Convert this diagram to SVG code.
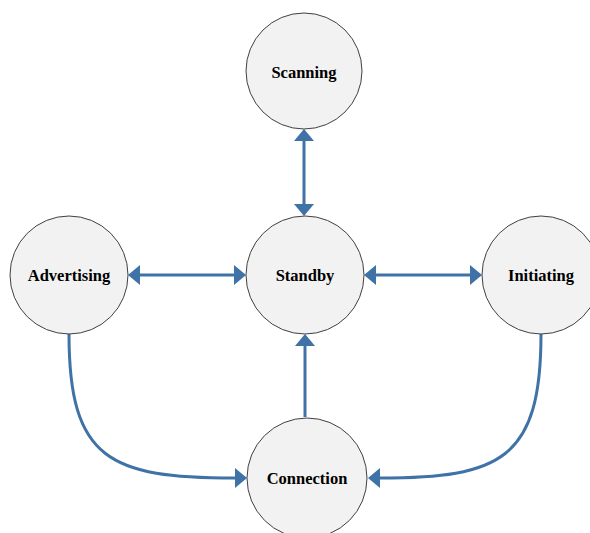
<svg xmlns="http://www.w3.org/2000/svg" width="590" height="533" viewBox="0 0 590 533">
<style>
.node circle{fill:#f2f2f2;stroke:#404040;stroke-width:1}
.node text{font-family:"Liberation Serif","Times New Roman",serif;font-weight:bold;font-size:16.5px;fill:#000;text-anchor:middle;dominant-baseline:central}
.conn path{fill:none;stroke:#3f72a6;stroke-width:3}
</style>
<defs>
<marker id="ah" viewBox="0 0 12 20" markerWidth="12" markerHeight="20" refX="0" refY="10" orient="auto-start-reverse" markerUnits="userSpaceOnUse">
<path d="M0,0 L12,10 L0,20 z" fill="#3f72a6"/>
</marker>
</defs>
<g class="conn">
<path d="M304,141 L304,204" marker-start="url(#ah)" marker-end="url(#ah)"/>
<path d="M140,275 L234,275" marker-start="url(#ah)" marker-end="url(#ah)"/>
<path d="M376,275 L470,275" marker-start="url(#ah)" marker-end="url(#ah)"/>
<path d="M305,417 L305,346" marker-end="url(#ah)"/>
<path d="M69,334 C69,460 110,478 235,478" marker-end="url(#ah)"/>
<path d="M541,334 C541,460 500,478 380,478" marker-end="url(#ah)"/>
</g>
<g id="scanning" class="node"><circle cx="304" cy="71" r="58"/><text x="304" y="72">Scanning</text></g>
<g id="standby" class="node"><circle cx="305" cy="275" r="59"/><text x="305" y="275">Standby</text></g>
<g id="advertising" class="node"><circle cx="69" cy="275" r="59"/><text x="69" y="275">Advertising</text></g>
<g id="initiating" class="node"><circle cx="541" cy="275" r="59"/><text x="541" y="275">Initiating</text></g>
<g id="connection" class="node"><circle cx="307" cy="478" r="60"/><text x="307" y="478">Connection</text></g>
</svg>
